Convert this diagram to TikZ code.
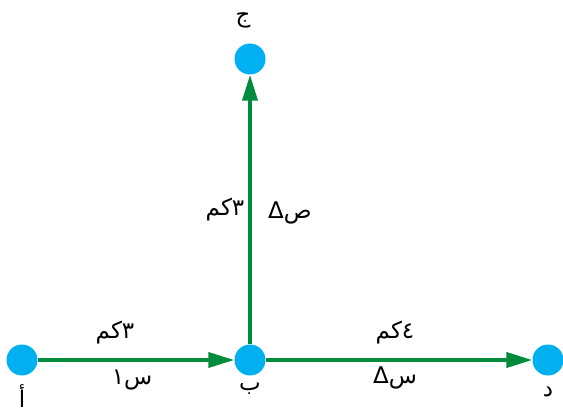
\documentclass[tikz,border=0pt]{standalone}
\usepackage{fontspec}
\newfontfamily\arabicfont[Script=Arabic]{DejaVu Sans}
\TeXXeTstate=1
\usetikzlibrary{arrows.meta}
\definecolor{dotblue}{RGB}{0,176,240}
\definecolor{vecgreen}{RGB}{0,140,60}
\tikzset{
  pt/.style={circle,fill=dotblue,inner sep=0pt,minimum size=31pt},
  vec/.style={draw=vecgreen,line width=3.8pt,-{Triangle[length=26pt,width=15pt]}},
  lab/.style={font=\arabicfont\fontsize{23}{26}\selectfont,inner sep=1pt}
}
\begin{document}
\begin{tikzpicture}[x=1pt,y=-1pt]
\useasboundingbox (0,0) rectangle (563,412);
\node[pt] (a) at (22,360) {};
\node[pt] (b) at (250,360) {};
\node[pt] (d) at (548,360) {};
\node[pt] (j) at (250,59) {};
\draw[vec] (a) -- (b);
\draw[vec] (b) -- (d);
\draw[vec] (b) -- (j);
\node[lab] (la) at (22,396) {\beginR أ\endR};
\node[lab] (lb) at (250,389) {\beginR ب\endR};
\node[lab] (ld) at (548,392) {\beginR د\endR};
\node[lab] (lj) at (243,20) {\beginR ج\endR};
\node[lab] (t1) at (115,333) {\beginR ٣كم\endR};
\node[lab] (t2) at (132,380) {\beginR س١\endR};
\node[lab] (t3) at (395,333) {\beginR ٤كم\endR};
\node[lab] (t4) at (395,378) {\beginR Δس\endR};
\node[lab] (t5) at (225,210) {\beginR ٣كم\endR};
\node[lab] (t6) at (290,213) {\beginR Δص\endR};
\end{tikzpicture}
\end{document}
